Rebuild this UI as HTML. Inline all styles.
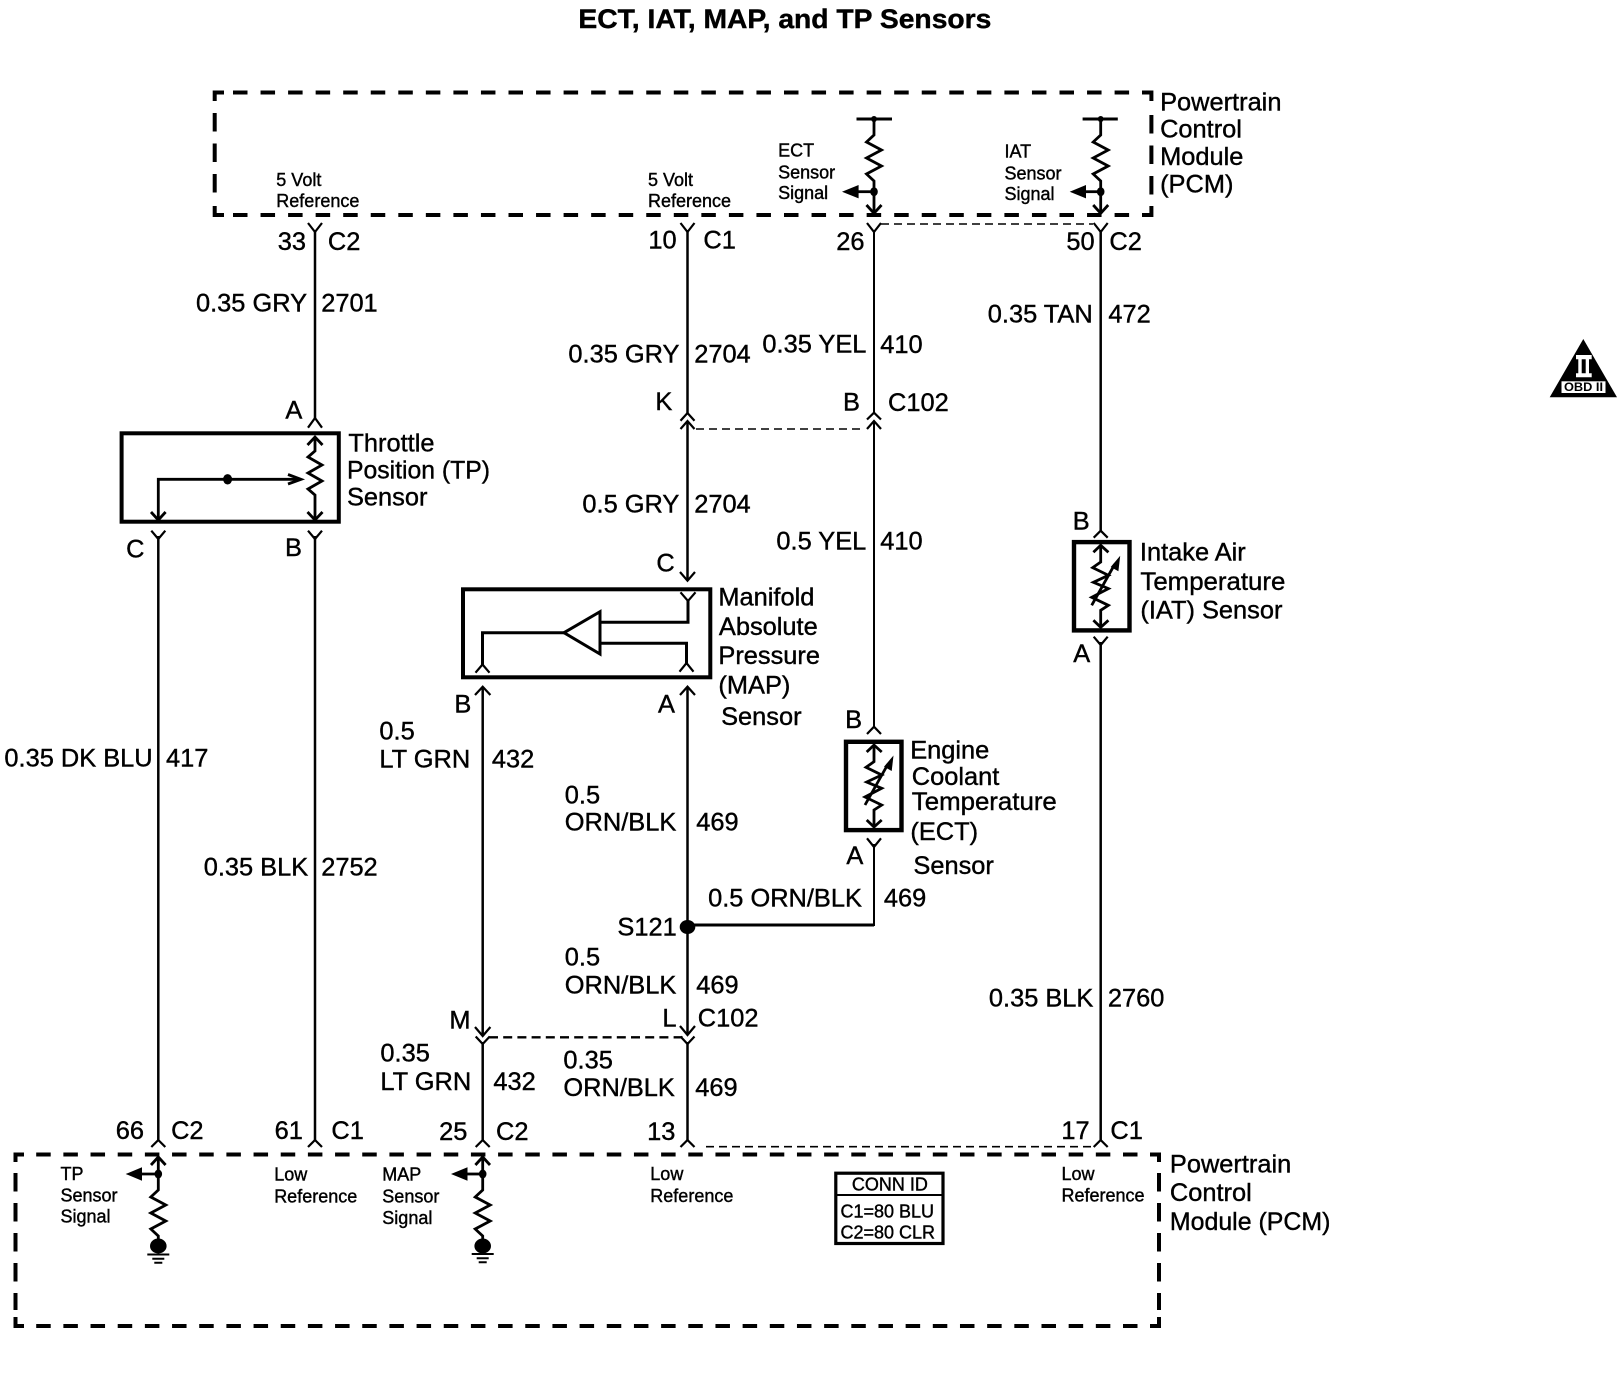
<!DOCTYPE html>
<html>
<head>
<meta charset="utf-8">
<title>ECT, IAT, MAP, and TP Sensors</title>
<style>
html,body{margin:0;padding:0;background:#fff}
svg{display:block}
text{font-family:"Liberation Sans",Arial,sans-serif;fill:#000;stroke:#000;stroke-width:.4}
.b text,text.b{font-size:25.4px}
.s text{font-size:18px}
.w{fill:none;stroke:#000;stroke-width:2.5}
.c{fill:none;stroke:#000;stroke-width:2.2}
.i{fill:none;stroke:#000;stroke-width:2.8}
</style>
</head>
<body>
<svg width="1622" height="1376" viewBox="0 0 1622 1376" xmlns="http://www.w3.org/2000/svg">
<rect width="1622" height="1376" fill="#fff"/>

<text x="578.4" y="28" font-size="27" font-weight="700" textLength="413" lengthAdjust="spacingAndGlyphs">ECT, IAT, MAP, and TP Sensors</text>

<!-- PCM top dashed box -->
<g fill="none" stroke="#000" stroke-width="4">
<path d="M233 92.5H1142" stroke-dasharray="14.5 13.05"/>
<path d="M233 215H1142" stroke-dasharray="14.5 13.05"/>
<path d="M224 92.5H214.7V101M214.7 206V215H224M1142 92.5H1151.4V101M1151.4 206V215H1142"/>
<path d="M214.7 113V200" stroke-dasharray="18.5 12"/>
<path d="M1151.4 115V200" stroke-dasharray="18.5 12"/>
<!-- PCM bottom dashed box -->
<path d="M36.2 1154.5H1150" stroke-dasharray="14.5 12.67"/>
<path d="M36.2 1326H1150" stroke-dasharray="14.5 12.67"/>
<path d="M24 1154.5H15.5V1162M15.5 1317V1326H24M1150 1154.5H1159V1162M1159 1317V1326H1150"/>
<path d="M15.5 1173V1310" stroke-dasharray="18.5 11.5"/>
<path d="M1159 1173V1310" stroke-dasharray="18.5 11.5"/>
</g>

<!-- thin dashed connector links -->
<g fill="none" stroke="#000">
<path d="M881 224H1093" stroke-width="1.6" stroke-dasharray="8 5"/>
<path d="M696 429H865" stroke-width="1.6" stroke-dasharray="8 5"/>
<path d="M489 1037.3H683" stroke-width="2.4" stroke-dasharray="9 5.2"/>
<path d="M706 1146.7H1093" stroke-width="1.6" stroke-dasharray="8 5"/>
</g>

<!-- main wires -->
<g class="w">
<path d="M315 230V418"/>
<path d="M158.3 536V1140"/>
<path d="M315 536V1140"/>
<path d="M482.7 686.7V1036"/>
<path d="M482.7 1042V1140"/>
<path d="M687.5 230V413"/>
<path d="M687.5 421V580.7"/>
<path d="M687.5 686.7V1035"/>
<path d="M687.5 1042V1140"/>
<path d="M874 230V413" stroke-width="2"/>
<path d="M874 421V726.7" stroke-width="2"/>
<path d="M874 844V925H687.5" stroke-width="2"/>
<path d="M687.5 925H874" stroke-width="3"/>
<path d="M1100.7 230V530.7"/>
<path d="M1100.7 642V1140"/>
</g>

<!-- connector Y (top) and caret shapes -->
<g class="c">
<path d="M308 223L315 232L322 223"/>
<path d="M680.5 223L687.5 232L694.5 223"/>
<path d="M867 223L874 232L881 223"/>
<path d="M1093.7 223L1100.7 232L1107.7 223"/>
<path d="M308 427.7L315 418L322 427.7"/>
<path d="M680.5 420.7L687.5 413L694.5 420.7"/>
<path d="M680.5 429L687.5 421L694.5 429"/>
<path d="M867 419.5L874 412.7L881 419.5"/>
<path d="M867 429L874 421L881 429"/>
<path d="M151.3 530.7L158.3 539L165.3 530.7"/>
<path d="M308 530.7L315 539L322 530.7"/>
<path d="M867 838.3L874 847L881 838.3"/>
<path d="M1093.7 636.7L1100.7 645L1107.7 636.7"/>
<path d="M867 734L874 726.7L881 734"/>
<path d="M1093.7 537.7L1100.7 530.7L1107.7 537.7"/>
<path d="M151.3 1147L158.3 1140L165.3 1147"/>
<path d="M308 1147L315 1140L322 1147"/>
<path d="M475.7 1147L482.7 1140L489.7 1147"/>
<path d="M680.5 1147L687.5 1140L694.5 1147"/>
<path d="M1093.7 1147L1100.7 1140L1107.7 1147"/>
<path d="M475.7 1036.5L482.7 1044L489.7 1036.5"/>
<path d="M680.5 1036.5L687.5 1044L694.5 1036.5"/>
<!-- arrowheads on wires -->
<path d="M475 1027L482.7 1036L490.4 1027"/>
<path d="M680 1026L687.5 1035L695 1026"/>
<path d="M680 572L687.5 580.7L695 572"/>
<path d="M475 695L482.7 686.7L490.4 695"/>
<path d="M680 695L687.5 686.7L695 695"/>
</g>

<!-- Throttle position sensor -->
<rect x="121.6" y="433.3" width="217.2" height="88.4" fill="none" stroke="#000" stroke-width="4"/>
<g class="i">
<path d="M315 437V451L308 457L322 465L308 473L322 481L308 489L315 495V520"/>
<path d="M307.5 445L315 437L322.5 445"/>
<path d="M307.5 512L315 520L322.5 512"/>
<path d="M158.3 520V479.3H300"/>
<path d="M151 512L158.3 520L165.6 512"/>
<path d="M288 474.5L301 479.3L288 484"/>
</g>
<ellipse cx="227.6" cy="479.3" rx="4.5" ry="5.2"/>

<!-- MAP sensor -->
<rect x="463" y="589.3" width="247.3" height="88" fill="none" stroke="#000" stroke-width="4"/>
<g fill="none" stroke="#000" stroke-width="3">
<path d="M564 632.7L600 611.7V654Z"/>
<path d="M600 622.3H688V600"/>
<path d="M600 643.3H686.5V665"/>
<path d="M564 632.7H482.5V665"/>
</g>
<g class="c">
<path d="M680.5 592.3L688 601L695.5 592.3"/>
<path d="M475.5 672.7L482.5 664.5L489.5 672.7"/>
<path d="M679.5 671.7L686.5 663L693.5 671.7"/>
</g>

<!-- ECT sensor -->
<g>
<rect x="846" y="741.8" width="55.5" height="88.3" fill="none" stroke="#000" stroke-width="4.4"/>
<g class="i">
<path d="M874 745V761.7L866 767.3L881.7 775L866.7 782L881.7 788.3L865 797L881.7 805L874 810V826.7"/>
<path d="M866.7 752L874 745L881.7 752"/>
<path d="M866.7 820L874 827L881.7 820"/>
<path d="M865 805L888 764"/>
</g>
<path d="M893.5 755.5L884 766.7L891.7 771Z"/>
</g>

<!-- IAT sensor -->
<g transform="translate(226.7,-199.7)">
<rect x="847.3" y="741.8" width="55.5" height="88.3" fill="none" stroke="#000" stroke-width="4.4"/>
<g class="i">
<path d="M874 745V761.7L866 767.3L881.7 775L866.7 782L881.7 788.3L865 797L881.7 805L874 810V826.7"/>
<path d="M866.7 752L874 745L881.7 752"/>
<path d="M866.7 820L874 827L881.7 820"/>
<path d="M865 805L888 764"/>
</g>
<path d="M893.5 755.5L884 766.7L891.7 771Z"/>
</g>

<!-- PCM top internal circuits -->
<g class="i">
<path d="M856.5 119H892" stroke-width="3"/>
<path d="M874 119V135L866.5 142L881.5 150L866.5 158L881.5 166L866.5 174L874 181V213"/>
<path d="M866.5 205L874 213.3L881.5 205"/>
<path d="M858 191.7H874"/>
<path d="M1082.6 119H1117.8" stroke-width="3"/>
<path d="M1100.7 119V135L1093.2 142L1108.2 150L1093.2 158L1108.2 166L1093.2 174L1100.7 181V213"/>
<path d="M1093.2 205L1100.7 213.3L1108.2 205"/>
<path d="M1085 191.7H1100.7"/>
</g>
<circle cx="874" cy="119" r="3"/>
<circle cx="1100.7" cy="119" r="3"/>
<ellipse cx="874" cy="191.7" rx="3.8" ry="4.5"/>
<ellipse cx="1100.7" cy="191.7" rx="3.8" ry="4.5"/>
<path d="M842 191.7L858.6 185V198.4Z"/>
<path d="M1069.7 191.7L1086 185V198.4Z"/>

<!-- PCM bottom internal circuits -->
<g class="i">
<path d="M158.3 1157V1190L150.8 1197L165.8 1205L150.8 1213L165.8 1221L150.8 1229L158.3 1236V1246"/>
<path d="M151 1165L158.3 1157L165.6 1165"/>
<path d="M140 1174H158.3"/>
<path d="M482.7 1157V1190L475.2 1197L490.2 1205L475.2 1213L490.2 1221L475.2 1229L482.7 1236V1246"/>
<path d="M475.4 1165L482.7 1157L490 1165"/>
<path d="M467 1174H482.7"/>
<path d="M147.3 1254.5H169.3M152.3 1258.7H164.3M154.3 1262.7H162.3" stroke-width="2"/>
<path d="M471.7 1254H493.7M476.7 1258.3H488.7M478.7 1262.3H486.7" stroke-width="2"/>
</g>
<ellipse cx="158.3" cy="1246" rx="8.3" ry="7.5"/>
<ellipse cx="482.7" cy="1246" rx="8.3" ry="7.5"/>
<ellipse cx="158.3" cy="1174" rx="3.8" ry="4.5"/>
<ellipse cx="482.7" cy="1174" rx="3.8" ry="4.5"/>
<path d="M125.7 1174L142 1167.3V1180.7Z"/>
<path d="M451 1174L467.5 1167.3V1180.7Z"/>

<!-- splice -->
<ellipse cx="687.5" cy="927" rx="7.8" ry="7"/>

<!-- CONN ID -->
<rect x="835.8" y="1173.2" width="107.2" height="70.3" fill="#fff" stroke="#000" stroke-width="3.2"/>
<path d="M835 1195H944" stroke="#000" stroke-width="2"/>

<!-- OBD II symbol -->
<path d="M1583.3 339L1617 397.3H1549.7Z"/>
<rect x="1561.5" y="381.3" width="44" height="11.7" fill="#fff"/>
<path d="M1576 355H1591.7V359.3H1576ZM1576 373.3H1591.7V377.3H1576ZM1578.3 359H1581.7V374H1578.3ZM1585.7 359H1589V374H1585.7Z" fill="#fff"/>
<text x="1564" y="391" font-size="12" font-weight="700" textLength="39" lengthAdjust="spacingAndGlyphs" style="stroke-width:0">OBD II</text>

<!-- small labels -->
<g class="s" transform="translate(-0.5,0)">
<text x="276.8" y="186">5 Volt</text>
<text x="276.8" y="207">Reference</text>
<text x="648.5" y="186">5 Volt</text>
<text x="648.5" y="207">Reference</text>
<text x="778.6" y="156.3">ECT</text>
<text x="778.6" y="178.3">Sensor</text>
<text x="778.6" y="199">Signal</text>
<text x="1005" y="157.3">IAT</text>
<text x="1005" y="179.3">Sensor</text>
<text x="1005" y="200">Signal</text>
<text x="61" y="1180">TP</text>
<text x="61" y="1201.7">Sensor</text>
<text x="61" y="1222.7">Signal</text>
<text x="274.7" y="1180.7">Low</text>
<text x="274.7" y="1202.3">Reference</text>
<text x="382.8" y="1180.7">MAP</text>
<text x="382.8" y="1202.3">Sensor</text>
<text x="382.8" y="1224">Signal</text>
<text x="650.8" y="1180">Low</text>
<text x="650.8" y="1202">Reference</text>
<text x="1062" y="1180">Low</text>
<text x="1062" y="1201.7">Reference</text>
<text x="852.4" y="1190.7">CONN ID</text>
<text x="841" y="1217.7">C1=80 BLU</text>
<text x="841" y="1238.3">C2=80 CLR</text>
</g>

<!-- large labels -->
<g class="b" transform="translate(-0.6,0)">
<text x="1160.7" y="110.7">Powertrain</text>
<text x="1160.7" y="137.7">Control</text>
<text x="1160.7" y="165">Module</text>
<text x="1160.7" y="192.7">(PCM)</text>

<text x="278.3" y="250">33</text>
<text x="328.5" y="250">C2</text>
<text x="649" y="248.7">10</text>
<text x="704" y="248.7">C1</text>
<text x="836.9" y="250">26</text>
<text x="1067" y="250">50</text>
<text x="1110" y="250">C2</text>

<text x="196.6" y="311.7">0.35 GRY</text>
<text x="321.8" y="311.7">2701</text>
<text x="569" y="362.7">0.35 GRY</text>
<text x="694.8" y="362.7">2704</text>
<text x="763" y="352.7">0.35 YEL</text>
<text x="880.8" y="353">410</text>
<text x="988.4" y="322.7">0.35 TAN</text>
<text x="1109" y="322.7">472</text>

<text x="656" y="410">K</text>
<text x="286" y="418.7">A</text>
<text x="843.6" y="410.7">B</text>
<text x="888.6" y="411">C102</text>

<text x="349" y="451.7">Throttle</text>
<text x="347.6" y="478.3" textLength="143" lengthAdjust="spacingAndGlyphs">Position (TP)</text>
<text x="347.6" y="505.7">Sensor</text>
<text x="126.7" y="557.7">C</text>
<text x="285.6" y="556">B</text>

<text x="583" y="512.7">0.5 GRY</text>
<text x="694.8" y="512.7">2704</text>
<text x="777" y="549.3">0.5 YEL</text>
<text x="880.8" y="549.3">410</text>
<text x="657" y="571.7">C</text>

<text x="719" y="605.7">Manifold</text>
<text x="719.5" y="635">Absolute</text>
<text x="719" y="664">Pressure</text>
<text x="719" y="693.3">(MAP)</text>
<text x="721.7" y="725">Sensor</text>
<text x="455" y="712.7">B</text>
<text x="658.6" y="712.3">A</text>

<text x="380" y="739.3">0.5</text>
<text x="380" y="767.3">LT GRN</text>
<text x="492.5" y="767.3">432</text>
<text x="5" y="766.7">0.35 DK BLU</text>
<text x="166.6" y="766.7">417</text>
<text x="565.4" y="803.3">0.5</text>
<text x="565.4" y="830.7">ORN/BLK</text>
<text x="696.8" y="830.7">469</text>
<text x="204.3" y="875.7">0.35 BLK</text>
<text x="321.8" y="875.7">2752</text>
<text x="708.7" y="906.7">0.5 ORN/BLK</text>
<text x="884.5" y="906.7">469</text>
<text x="618" y="935.7">S121</text>

<text x="1073.3" y="529.3">B</text>
<text x="1140.5" y="560.7">Intake Air</text>
<text x="1141" y="590" textLength="145" lengthAdjust="spacingAndGlyphs">Temperature</text>
<text x="1141" y="618.3">(IAT) Sensor</text>
<text x="1073.8" y="662">A</text>

<text x="845.7" y="728">B</text>
<text x="910.8" y="758.3">Engine</text>
<text x="912.4" y="785">Coolant</text>
<text x="912.4" y="810" textLength="145" lengthAdjust="spacingAndGlyphs">Temperature</text>
<text x="911" y="840">(ECT)</text>
<text x="914" y="874">Sensor</text>
<text x="847" y="864">A</text>

<text x="565.4" y="965.7">0.5</text>
<text x="565.4" y="993.3">ORN/BLK</text>
<text x="696.8" y="993.3">469</text>
<text x="450" y="1028.3">M</text>
<text x="663" y="1026.7">L</text>
<text x="698.4" y="1026.7">C102</text>
<text x="381" y="1061.7">0.35</text>
<text x="381" y="1090">LT GRN</text>
<text x="494" y="1090">432</text>
<text x="564" y="1068.3">0.35</text>
<text x="564" y="1096">ORN/BLK</text>
<text x="695.8" y="1096">469</text>

<text x="989.5" y="1006.7">0.35 BLK</text>
<text x="1108.5" y="1006.7">2760</text>

<text x="116.4" y="1139">66</text>
<text x="171.7" y="1139">C2</text>
<text x="275.2" y="1139">61</text>
<text x="332" y="1139">C1</text>
<text x="439.7" y="1140">25</text>
<text x="496.6" y="1140">C2</text>
<text x="647.7" y="1140">13</text>
<text x="1062" y="1139">17</text>
<text x="1111" y="1139">C1</text>

<text x="1170.5" y="1172.3">Powertrain</text>
<text x="1170.5" y="1201">Control</text>
<text x="1170.5" y="1230" textLength="160.5" lengthAdjust="spacingAndGlyphs">Module (PCM)</text>
</g>
</svg>
</body>
</html>
